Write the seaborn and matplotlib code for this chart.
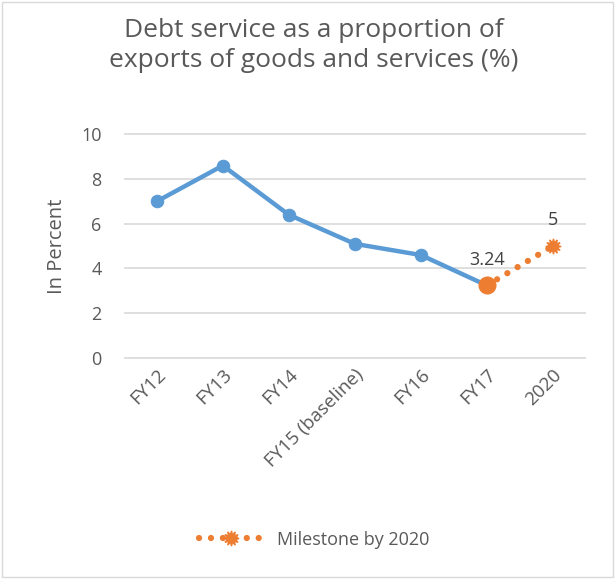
import matplotlib
matplotlib.use("Agg")
import matplotlib.pyplot as plt
import seaborn as sns
import pandas as pd
from matplotlib.patches import Rectangle
from matplotlib.lines import Line2D

categories = ["FY12", "FY13", "FY14", "FY15 (baseline)", "FY16", "FY17", "2020"]
actual_values = [7.0, 8.6, 6.4, 5.1, 4.6, 3.24, None]
milestone_values = [None, None, None, None, None, 3.24, 5.0]
milestone_labels = {"FY17": "3.24", "2020": "5"}
yticks = [0, 2, 4, 6, 8, 10]

sns.set_theme(style="white")
plt.rcParams['font.family'] = ['Open Sans', 'DejaVu Sans']

fig = plt.figure(figsize=(6.16, 5.79), dpi=100)
ax = fig.add_axes([0.201, 0.380, 0.750, 0.390])

pos = list(range(len(categories)))
df_a = pd.DataFrame({"x": pos, "y": actual_values}).dropna()
df_m = pd.DataFrame({"x": pos, "y": milestone_values}).dropna()

blue = "#5B9BD5"
orange = "#ED7D31"
grey = "#595959"
dots = (0, (0.01, 1.9))

for t in yticks:
    ax.axhline(t, color="#D9D9D9", lw=1.2, zorder=0)

sns.lineplot(data=df_a, x="x", y="y", ax=ax, color=blue, lw=3.2, marker="o",
             markersize=9, markeredgecolor=blue, zorder=3, legend=False)
sns.lineplot(data=df_m, x="x", y="y", ax=ax, color=orange, lw=4.5, linestyle=dots,
             zorder=4, legend=False)
ax.lines[-1].set_dash_capstyle("round")
ax.plot(df_m["x"].iloc[0], df_m["y"].iloc[0], "o", color=orange, ms=12, zorder=5)
ax.plot(df_m["x"].iloc[1], df_m["y"].iloc[1], marker=(12, 1, 0), color=orange, ms=11, zorder=5)

for xi, yi in zip(df_m["x"], df_m["y"]):
    lab = milestone_labels[categories[int(xi)]]
    ax.text(xi, yi + 0.75, lab, ha="center", va="bottom",
            fontsize=13, color="#404040")

ax.set_xlim(-0.5, len(categories) - 0.5)
ax.set_yticks(yticks)
ax.set_yticklabels([str(t) for t in yticks], fontsize=13, color=grey)
ax.set_xticks(pos)
ax.set_xticklabels(categories, rotation=45, ha="right", rotation_mode="anchor",
                   fontsize=13.5, color=grey)
ax.tick_params(axis="y", pad=16, length=0)
ax.tick_params(axis="x", pad=5, length=0)
ax.set_xlabel("")
ax.set_ylabel("In Percent", fontsize=14.5, color=grey, labelpad=10)
for s in ax.spines.values():
    s.set_visible(False)
ax.set_ylim(-0.05, 10.05)

fig.text(0.51, 0.922, "Debt service as a proportion of\nexports of goods and services (%)",
         ha="center", va="center", fontsize=19, color=grey, linespacing=1.25)

h = Line2D([0], [0], color=orange, lw=4.5, linestyle=dots, dash_capstyle="round",
           marker=(12, 1, 0), ms=11)
fig.legend(handles=[h], labels=["Milestone by 2020"], loc="center", bbox_to_anchor=(0.51, 0.068),
           frameon=False, fontsize=13, labelcolor=grey, handlelength=3.5)

fig.patches.append(Rectangle((0.003, 0.003), 0.992, 0.993, transform=fig.transFigure,
                             fill=False, edgecolor="#D9D9D9", lw=1))

fig.savefig("out.png", dpi=100, facecolor="white")
